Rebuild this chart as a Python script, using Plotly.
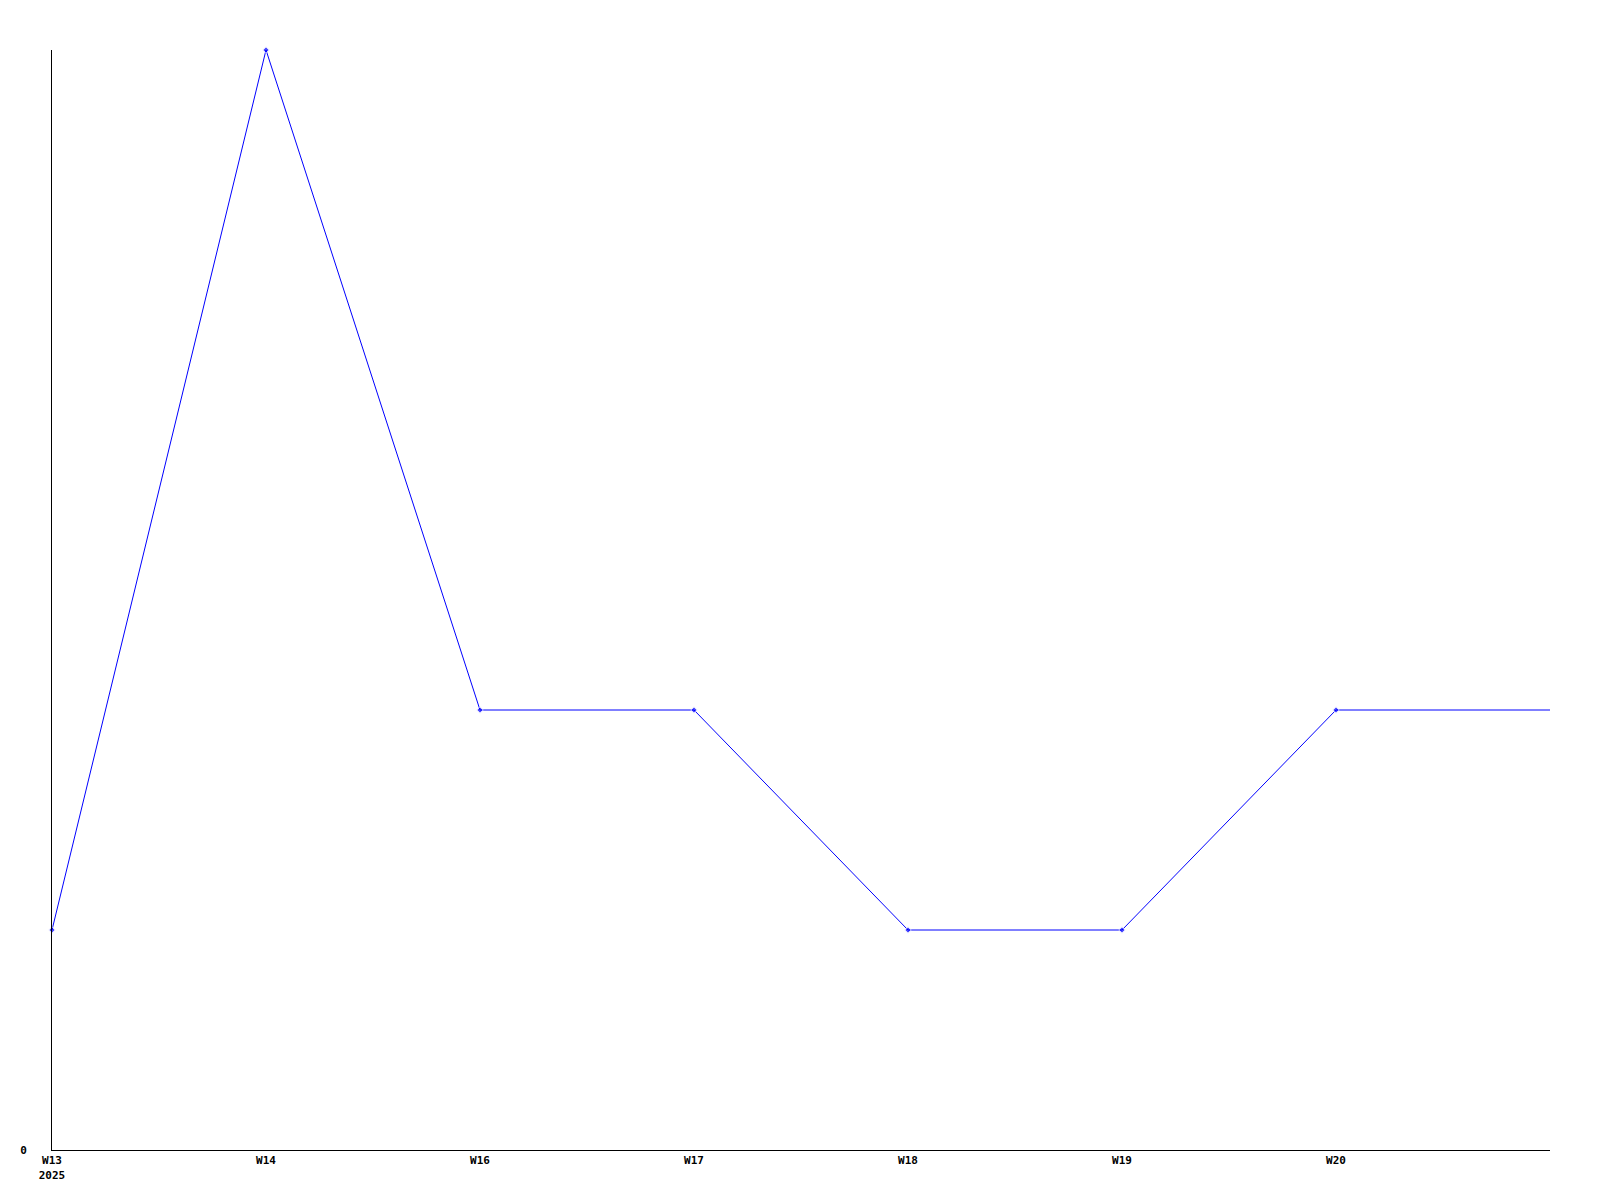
import plotly.graph_objects as go

weeks = ["W13", "W14", "W16", "W17", "W18", "W19", "W20", ""]
year_label = "2025"
values = [1, 5, 2, 2, 1, 1, 2, 2]

x = list(range(len(values)))
tick_text = [w for w in weeks[:-1]]
tick_text[0] = tick_text[0] + "<br>" + year_label

marker_sizes = [5] * (len(values) - 1) + [0]

fig = go.Figure()
fig.add_trace(go.Scatter(
    x=x, y=values, mode="lines+markers",
    line=dict(color="#0000ff", width=1),
    marker=dict(color="#0000ff", size=marker_sizes, symbol="diamond"),
    cliponaxis=False,
    showlegend=False,
))

tf = dict(family="DejaVu Sans Mono", size=11, color="black", weight="bold")

fig.update_layout(
    width=1600, height=1200,
    margin=dict(l=42, r=58, t=42, b=58),
    plot_bgcolor="white", paper_bgcolor="white",
    font=dict(family="DejaVu Sans Mono", size=11, color="black"),
    xaxis=dict(
        range=[0, len(values) - 1],
        tickmode="array", tickvals=x[:-1], ticktext=tick_text,
        showgrid=False, zeroline=False,
        showline=True, linecolor="black", linewidth=1,
        ticks="", tickfont=tf,
    ),
    yaxis=dict(
        range=[0, 5],
        tickmode="array", tickvals=[0], ticktext=["0"],
        showgrid=False, zeroline=False,
        showline=True, linecolor="black", linewidth=1,
        ticks="", ticklabelstandoff=22,
        tickfont=tf,
    ),
)

fig.write_html("out.html")
